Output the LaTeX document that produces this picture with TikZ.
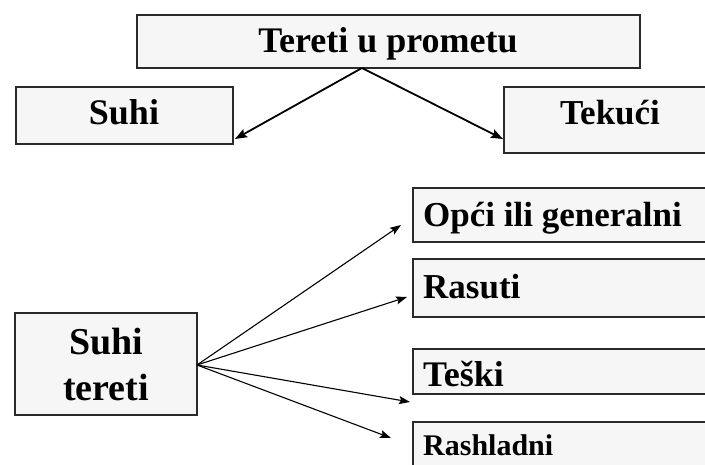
\documentclass[tikz,border=0pt]{standalone}
\usepackage{fontspec}
\setmainfont{Liberation Serif}
\usetikzlibrary{arrows.meta}
\definecolor{boxfill}{HTML}{F6F6F6}
\definecolor{boxline}{HTML}{2A2A2A}
\tikzset{
  box/.style={draw=boxline, fill=boxfill, line width=1.8pt, inner sep=0pt, outer sep=0pt},
  lbl/.style={inner sep=0pt, font=\bfseries},
  bigarrow/.style={draw=black, line width=1.8pt, -{Stealth[length=12pt,width=9pt,inset=2pt]}},
  thinarrow/.style={draw=black, line width=1.1pt, -{Stealth[length=11pt,width=8pt,inset=2pt]}}
}
\begin{document}
\begin{tikzpicture}[x=1pt,y=-1pt]
\useasboundingbox (0,0) rectangle (705,465);
% boxes
\node[box, minimum width=503pt, minimum height=53pt, anchor=north west] (top) at (137,15) {};
\node[lbl, font=\bfseries\fontsize{36}{40}\selectfont, anchor=base] at (388,53) {Tereti u prometu};
\node[box, minimum width=217pt, minimum height=57pt, anchor=north west] (suhi) at (16,87) {};
\node[lbl, font=\bfseries\fontsize{36}{40}\selectfont, anchor=base] at (124,125) {Suhi};
\node[box, minimum width=212pt, minimum height=66pt, anchor=north west] (tek) at (504,87) {};
\node[lbl, font=\bfseries\fontsize{35}{40}\selectfont, anchor=base] at (610,125) {Tekući};
\node[box, minimum width=182pt, minimum height=102pt, anchor=north west] (st) at (15,313) {};
\node[lbl, font=\bfseries\fontsize{38}{45}\selectfont, anchor=base] at (106,355) {Suhi};
\node[lbl, font=\bfseries\fontsize{38}{45}\selectfont, anchor=base] at (106,400) {tereti};
\node[box, minimum width=300pt, minimum height=54pt, anchor=north west] (opc) at (413,188) {};
\node[lbl, font=\bfseries\fontsize{35}{40}\selectfont, anchor=base west] at (423,227) {Opći ili generalni};
\node[box, minimum width=300pt, minimum height=58pt, anchor=north west] (ras) at (413,259) {};
\node[lbl, font=\bfseries\fontsize{35}{40}\selectfont, anchor=base west] at (423,299) {Rasuti};
\node[box, minimum width=300pt, minimum height=45pt, anchor=north west] (tes) at (413,349) {};
\node[lbl, font=\bfseries\fontsize{36}{40}\selectfont, anchor=base west] at (423,387) {Teški};
\node[box, minimum width=300pt, minimum height=50pt, anchor=north west] (rsh) at (413,422) {};
\node[lbl, font=\bfseries\fontsize{30}{34}\selectfont, anchor=base west] at (423,455) {Rashladni};
% connector end points
\coordinate (topsrc) at (362,68);
\coordinate (suhitip) at (235,139);
\coordinate (tektip) at (503,139);
\coordinate (stsrc) at (197,365);
\coordinate (opctip) at (401,225);
\coordinate (rastip) at (407,297);
\coordinate (testip) at (410,402);
\coordinate (rshtip) at (391,438);
% arrows
\draw[bigarrow] (topsrc) -- (suhitip);
\draw[bigarrow] (topsrc) -- (tektip);
\draw[thinarrow] (stsrc) -- (opctip);
\draw[thinarrow] (stsrc) -- (rastip);
\draw[thinarrow] (stsrc) -- (testip);
\draw[thinarrow] (stsrc) -- (rshtip);
\end{tikzpicture}
\end{document}
